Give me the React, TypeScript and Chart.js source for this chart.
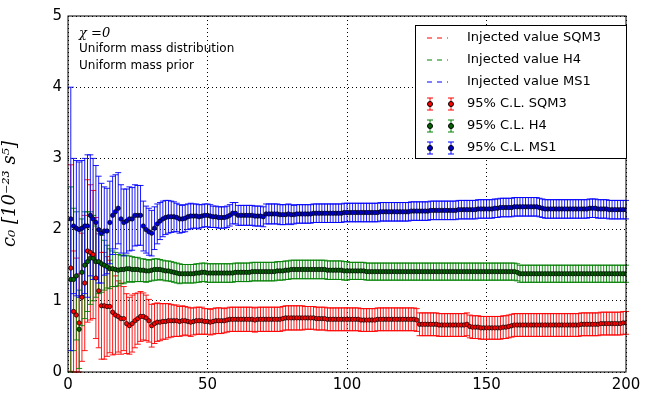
import { useEffect, useRef } from 'react';
import { Chart, registerables } from 'chart.js';

Chart.register(...registerables);

const sqm3Mean = [
  1.46, 0.85, 0.8, 0.69, 1.05, 1.25, 1.7, 1.68, 1.65, 1.32, 1.14, 0.93, 0.93, 0.92, 0.92, 0.84, 0.8, 0.78, 0.75, 0.75,
  0.68, 0.65, 0.68, 0.72, 0.75, 0.78, 0.78, 0.76, 0.72, 0.65, 0.68, 0.7, 0.7, 0.71, 0.71, 0.72, 0.72, 0.72, 0.72, 0.71,
  0.72, 0.72, 0.71, 0.7, 0.71, 0.72, 0.72, 0.72, 0.71, 0.71, 0.7, 0.71, 0.72, 0.72, 0.72, 0.72, 0.73, 0.74, 0.74, 0.74,
  0.74, 0.74, 0.74, 0.74, 0.74, 0.74, 0.73, 0.74, 0.74, 0.74, 0.74, 0.74, 0.74, 0.74, 0.74, 0.74, 0.75, 0.76, 0.76, 0.76,
  0.76, 0.76, 0.76, 0.76, 0.76, 0.76, 0.76, 0.76, 0.75, 0.75, 0.75, 0.75, 0.74, 0.74, 0.74, 0.74, 0.74, 0.74, 0.74, 0.74,
  0.74, 0.74, 0.74, 0.74, 0.73, 0.73, 0.73, 0.73, 0.73, 0.73, 0.74, 0.74, 0.74, 0.74, 0.74, 0.74, 0.74, 0.74, 0.74, 0.74,
  0.74, 0.74, 0.74, 0.74, 0.73, 0.67, 0.67, 0.67, 0.67, 0.67, 0.67, 0.67, 0.66, 0.66, 0.66, 0.66, 0.66, 0.66, 0.66, 0.66,
  0.66, 0.66, 0.67, 0.64, 0.63, 0.63, 0.63, 0.62, 0.62, 0.62, 0.62, 0.62, 0.62, 0.62, 0.62, 0.63, 0.63, 0.64, 0.65, 0.66,
  0.66, 0.66, 0.66, 0.66, 0.66, 0.66, 0.66, 0.66, 0.66, 0.66, 0.66, 0.66, 0.66, 0.66, 0.66, 0.66, 0.66, 0.66, 0.66, 0.66,
  0.66, 0.66, 0.66, 0.67, 0.67, 0.67, 0.67, 0.67, 0.67, 0.67, 0.68, 0.68, 0.68, 0.68, 0.68, 0.68, 0.68, 0.68, 0.69, 0.69,
];
const sqm3Err = [
  1.45, 0.85, 0.8, 0.69, 0.9, 0.95, 1.0, 0.95, 0.9, 0.85, 0.8, 0.75, 0.75, 0.7, 0.65, 0.6, 0.55, 0.5, 0.5, 0.45,
  0.42, 0.4, 0.4, 0.38, 0.36, 0.35, 0.33, 0.32, 0.3, 0.3, 0.28, 0.27, 0.26, 0.25, 0.25, 0.24, 0.23, 0.22, 0.22, 0.21,
  0.21, 0.2, 0.2, 0.2, 0.19, 0.19, 0.19, 0.19, 0.18, 0.18, 0.18, 0.18, 0.18, 0.18, 0.18, 0.17, 0.17, 0.17, 0.17, 0.17,
  0.17, 0.17, 0.17, 0.17, 0.17, 0.17, 0.17, 0.17, 0.17, 0.17, 0.17, 0.17, 0.17, 0.17, 0.17, 0.17, 0.17, 0.17, 0.17, 0.17,
  0.17, 0.17, 0.17, 0.17, 0.16, 0.16, 0.16, 0.16, 0.16, 0.16, 0.16, 0.16, 0.16, 0.16, 0.16, 0.16, 0.16, 0.16, 0.16, 0.16,
  0.16, 0.16, 0.16, 0.16, 0.16, 0.16, 0.16, 0.16, 0.16, 0.16, 0.16, 0.16, 0.16, 0.16, 0.16, 0.16, 0.16, 0.16, 0.16, 0.16,
  0.16, 0.16, 0.16, 0.16, 0.16, 0.16, 0.16, 0.16, 0.16, 0.16, 0.16, 0.16, 0.16, 0.16, 0.16, 0.16, 0.16, 0.16, 0.16, 0.16,
  0.16, 0.16, 0.16, 0.16, 0.16, 0.16, 0.16, 0.16, 0.16, 0.16, 0.16, 0.16, 0.16, 0.16, 0.16, 0.16, 0.16, 0.16, 0.16, 0.16,
  0.16, 0.16, 0.16, 0.16, 0.16, 0.16, 0.16, 0.16, 0.16, 0.16, 0.16, 0.16, 0.16, 0.16, 0.16, 0.16, 0.16, 0.16, 0.16, 0.16,
  0.16, 0.16, 0.16, 0.16, 0.16, 0.16, 0.16, 0.16, 0.16, 0.16, 0.16, 0.16, 0.16, 0.16, 0.16, 0.16, 0.16, 0.16, 0.16, 0.16,
];
const h4Mean = [
  1.3, 1.3, 1.35, 0.6, 1.4, 1.5, 1.55, 1.6, 1.6, 1.55, 1.55, 1.52, 1.5, 1.48, 1.45, 1.45, 1.44, 1.43, 1.44, 1.44,
  1.45, 1.45, 1.44, 1.44, 1.44, 1.43, 1.43, 1.42, 1.42, 1.43, 1.44, 1.44, 1.44, 1.43, 1.42, 1.42, 1.41, 1.4, 1.39, 1.38,
  1.38, 1.38, 1.38, 1.38, 1.38, 1.39, 1.39, 1.4, 1.4, 1.39, 1.39, 1.39, 1.39, 1.39, 1.39, 1.39, 1.39, 1.39, 1.39, 1.4,
  1.4, 1.4, 1.4, 1.4, 1.4, 1.41, 1.41, 1.41, 1.41, 1.41, 1.41, 1.41, 1.41, 1.41, 1.42, 1.42, 1.42, 1.43, 1.43, 1.44,
  1.44, 1.44, 1.44, 1.44, 1.44, 1.44, 1.44, 1.44, 1.44, 1.44, 1.44, 1.44, 1.43, 1.43, 1.43, 1.43, 1.43, 1.43, 1.42, 1.42,
  1.42, 1.42, 1.42, 1.42, 1.42, 1.42, 1.41, 1.41, 1.41, 1.41, 1.41, 1.41, 1.41, 1.41, 1.41, 1.41, 1.41, 1.41, 1.41, 1.41,
  1.41, 1.41, 1.41, 1.41, 1.41, 1.41, 1.41, 1.41, 1.41, 1.41, 1.41, 1.41, 1.41, 1.41, 1.41, 1.41, 1.41, 1.41, 1.41, 1.41,
  1.41, 1.41, 1.41, 1.41, 1.41, 1.41, 1.41, 1.41, 1.41, 1.41, 1.41, 1.41, 1.41, 1.41, 1.41, 1.41, 1.41, 1.41, 1.41, 1.41,
  1.4, 1.38, 1.38, 1.38, 1.38, 1.38, 1.38, 1.38, 1.38, 1.38, 1.38, 1.38, 1.38, 1.38, 1.38, 1.38, 1.38, 1.38, 1.38, 1.38,
  1.38, 1.38, 1.38, 1.38, 1.38, 1.38, 1.38, 1.38, 1.38, 1.38, 1.38, 1.38, 1.38, 1.38, 1.38, 1.38, 1.38, 1.38, 1.38, 1.38,
];
const h4Err = [
  1.3, 1.0, 0.9, 0.55, 0.75, 0.75, 0.7, 0.65, 0.6, 0.5, 0.45, 0.4, 0.35, 0.3, 0.28, 0.25, 0.24, 0.22, 0.2, 0.2,
  0.19, 0.18, 0.18, 0.17, 0.17, 0.16, 0.16, 0.16, 0.15, 0.15, 0.15, 0.15, 0.14, 0.14, 0.14, 0.14, 0.14, 0.14, 0.14, 0.14,
  0.13, 0.13, 0.13, 0.13, 0.13, 0.13, 0.13, 0.13, 0.13, 0.13, 0.13, 0.13, 0.13, 0.13, 0.13, 0.13, 0.13, 0.13, 0.13, 0.13,
  0.13, 0.13, 0.13, 0.13, 0.13, 0.13, 0.13, 0.13, 0.13, 0.13, 0.13, 0.13, 0.13, 0.13, 0.13, 0.13, 0.13, 0.13, 0.13, 0.13,
  0.13, 0.13, 0.13, 0.13, 0.13, 0.13, 0.13, 0.13, 0.13, 0.13, 0.13, 0.13, 0.13, 0.13, 0.13, 0.13, 0.13, 0.13, 0.13, 0.13,
  0.12, 0.12, 0.12, 0.12, 0.12, 0.12, 0.12, 0.12, 0.12, 0.12, 0.12, 0.12, 0.12, 0.12, 0.12, 0.12, 0.12, 0.12, 0.12, 0.12,
  0.12, 0.12, 0.12, 0.12, 0.12, 0.12, 0.12, 0.12, 0.12, 0.12, 0.12, 0.12, 0.12, 0.12, 0.12, 0.12, 0.12, 0.12, 0.12, 0.12,
  0.12, 0.12, 0.12, 0.12, 0.12, 0.12, 0.12, 0.12, 0.12, 0.12, 0.12, 0.12, 0.12, 0.12, 0.12, 0.12, 0.12, 0.12, 0.12, 0.12,
  0.12, 0.12, 0.12, 0.12, 0.12, 0.12, 0.12, 0.12, 0.12, 0.12, 0.12, 0.12, 0.12, 0.12, 0.12, 0.12, 0.12, 0.12, 0.12, 0.12,
  0.12, 0.12, 0.12, 0.12, 0.12, 0.12, 0.12, 0.12, 0.12, 0.12, 0.12, 0.12, 0.12, 0.12, 0.12, 0.12, 0.12, 0.12, 0.12, 0.12,
];
const ms1Mean = [
  2.15, 2.05, 2.02, 2.0, 2.02, 2.05, 2.05, 2.2, 2.15, 2.1, 2.0, 1.95, 1.98, 1.98, 2.1, 2.2, 2.25, 2.3, 2.15, 2.1,
  2.12, 2.15, 2.15, 2.2, 2.2, 2.2, 2.05, 2.0, 1.97, 1.95, 2.02, 2.08, 2.12, 2.15, 2.17, 2.18, 2.18, 2.18, 2.17, 2.15,
  2.15, 2.16, 2.18, 2.19, 2.19, 2.19, 2.18, 2.19, 2.2, 2.2, 2.19, 2.18, 2.18, 2.17, 2.17, 2.17, 2.18, 2.2, 2.23, 2.23,
  2.2, 2.2, 2.2, 2.2, 2.2, 2.2, 2.19, 2.19, 2.19, 2.18, 2.22, 2.22, 2.22, 2.22, 2.22, 2.21, 2.21, 2.21, 2.22, 2.21,
  2.21, 2.22, 2.22, 2.22, 2.22, 2.22, 2.22, 2.23, 2.23, 2.23, 2.23, 2.23, 2.23, 2.23, 2.23, 2.23, 2.23, 2.23, 2.24, 2.24,
  2.24, 2.24, 2.24, 2.24, 2.24, 2.24, 2.24, 2.24, 2.24, 2.24, 2.24, 2.25, 2.25, 2.25, 2.25, 2.25, 2.25, 2.25, 2.25, 2.25,
  2.25, 2.25, 2.26, 2.26, 2.26, 2.26, 2.26, 2.26, 2.26, 2.27, 2.27, 2.27, 2.27, 2.27, 2.27, 2.27, 2.27, 2.27, 2.27, 2.28,
  2.28, 2.28, 2.28, 2.28, 2.28, 2.28, 2.29, 2.29, 2.29, 2.29, 2.29, 2.29, 2.3, 2.3, 2.31, 2.31, 2.31, 2.31, 2.31, 2.32,
  2.32, 2.32, 2.32, 2.32, 2.32, 2.32, 2.32, 2.32, 2.31, 2.3, 2.29, 2.29, 2.29, 2.29, 2.29, 2.29, 2.29, 2.29, 2.29, 2.29,
  2.29, 2.29, 2.29, 2.29, 2.29, 2.29, 2.3, 2.3, 2.3, 2.29, 2.29, 2.29, 2.29, 2.28, 2.28, 2.28, 2.28, 2.28, 2.28, 2.28,
];
const ms1Err = [
  1.85, 0.95, 0.95, 0.95, 0.95, 0.95, 1.0, 0.85, 0.85, 0.8, 0.75, 0.7, 0.62, 0.6, 0.58, 0.55, 0.52, 0.5, 0.48, 0.47,
  0.45, 0.45, 0.44, 0.43, 0.42, 0.42, 0.35, 0.33, 0.33, 0.32, 0.3, 0.28, 0.26, 0.25, 0.24, 0.23, 0.22, 0.21, 0.2, 0.2,
  0.19, 0.19, 0.18, 0.18, 0.17, 0.17, 0.17, 0.16, 0.16, 0.16, 0.16, 0.15, 0.15, 0.15, 0.15, 0.15, 0.15, 0.15, 0.15, 0.15,
  0.14, 0.14, 0.14, 0.14, 0.14, 0.14, 0.14, 0.14, 0.14, 0.14, 0.14, 0.14, 0.14, 0.14, 0.14, 0.14, 0.14, 0.14, 0.14, 0.14,
  0.13, 0.13, 0.13, 0.13, 0.13, 0.13, 0.13, 0.13, 0.13, 0.13, 0.13, 0.13, 0.13, 0.13, 0.13, 0.13, 0.13, 0.13, 0.13, 0.13,
  0.13, 0.13, 0.13, 0.13, 0.13, 0.13, 0.13, 0.13, 0.13, 0.13, 0.13, 0.13, 0.13, 0.13, 0.13, 0.13, 0.13, 0.13, 0.13, 0.13,
  0.13, 0.13, 0.13, 0.13, 0.13, 0.13, 0.13, 0.13, 0.13, 0.13, 0.13, 0.13, 0.13, 0.13, 0.13, 0.13, 0.13, 0.13, 0.13, 0.13,
  0.13, 0.13, 0.13, 0.13, 0.13, 0.13, 0.13, 0.13, 0.13, 0.13, 0.13, 0.13, 0.13, 0.13, 0.13, 0.13, 0.13, 0.13, 0.13, 0.13,
  0.13, 0.13, 0.13, 0.13, 0.13, 0.13, 0.13, 0.13, 0.13, 0.13, 0.13, 0.13, 0.13, 0.13, 0.13, 0.13, 0.13, 0.13, 0.13, 0.13,
  0.13, 0.13, 0.13, 0.13, 0.13, 0.13, 0.13, 0.13, 0.13, 0.13, 0.13, 0.13, 0.13, 0.13, 0.13, 0.13, 0.13, 0.13, 0.13, 0.13,
];

const seriesNames = ['SQM3', 'H4', 'MS1'];
const lineColors = ['#ff0000', '#008000', '#0000ff'];
const dotColors = ['#ff0000', '#006400', '#0000cc'];
const annotations = ['Uniform mass distribution', 'Uniform mass prior'];

const FONT = '"DejaVu Sans", sans-serif';

// error bars + caps, drawn before the dots
const errorBars = {
  id: 'errorBars',
  beforeDatasetsDraw(chart: any) {
    const { ctx, scales } = chart;
    ctx.save();
    chart.data.datasets.forEach((ds: any, i: number) => {
      ctx.strokeStyle = lineColors[i];
      ctx.globalAlpha = 0.9;
      ctx.lineWidth = 1;
      ds.data.forEach((p: any) => {
        const x = scales.x.getPixelForValue(p.x);
        const y1 = scales.y.getPixelForValue(Math.max(0, p.y - p.e));
        const y2 = scales.y.getPixelForValue(p.y + p.e);
        ctx.beginPath();
        ctx.moveTo(x, y1);
        ctx.lineTo(x, y2);
        ctx.moveTo(x - 3, y1);
        ctx.lineTo(x + 3, y1);
        ctx.moveTo(x - 3, y2);
        ctx.lineTo(x + 3, y2);
        ctx.stroke();
      });
    });
    ctx.restore();
  },
  afterDraw(chart: any) {
    const { ctx, chartArea: a } = chart;
    ctx.save();
    ctx.strokeStyle = '#000';
    ctx.lineWidth = 1;
    ctx.strokeRect(a.left, a.top, a.right - a.left, a.bottom - a.top);
    // annotation text
    ctx.fillStyle = '#000';
    ctx.textBaseline = 'middle';
    ctx.font = 'italic 13px "DejaVu Serif", serif';
    ctx.fillText('\u03c7 =0', a.left + 11, a.top + 18);
    ctx.font = '12px ' + FONT;
    annotations.forEach((t, i) => ctx.fillText(t, a.left + 11, a.top + 33 + i * 17));
    // legend
    const lx = 415, ly = 25, lw = 211, lh = 133;
    ctx.fillStyle = '#fff';
    ctx.fillRect(lx, ly, lw, lh);
    ctx.strokeRect(lx + 0.5, ly + 0.5, lw, lh);
    ctx.font = '13px ' + FONT;
    seriesNames.forEach((n, i) => {
      const y = ly + 13 + i * 22;
      ctx.strokeStyle = lineColors[i];
      ctx.setLineDash([5, 5]);
      ctx.beginPath();
      ctx.moveTo(lx + 12, y);
      ctx.lineTo(lx + 33, y);
      ctx.stroke();
      ctx.setLineDash([]);
      ctx.fillStyle = '#000';
      ctx.fillText('Injected value ' + n, lx + 52, y);
    });
    seriesNames.forEach((n, i) => {
      const y = ly + 79 + i * 22;
      [lx + 15, lx + 36].forEach((x) => {
        ctx.strokeStyle = lineColors[i];
        ctx.beginPath();
        ctx.moveTo(x, y - 6);
        ctx.lineTo(x, y + 6);
        ctx.moveTo(x - 3, y - 6);
        ctx.lineTo(x + 3, y - 6);
        ctx.moveTo(x - 3, y + 6);
        ctx.lineTo(x + 3, y + 6);
        ctx.stroke();
        ctx.fillStyle = dotColors[i];
        ctx.strokeStyle = '#000';
        ctx.beginPath();
        ctx.arc(x, y, 2.5, 0, Math.PI * 2);
        ctx.fill();
        ctx.stroke();
      });
      ctx.fillStyle = '#000';
      ctx.fillText('95% C.L. ' + n, lx + 52, y);
    });
    ctx.restore();
  },
};

export default function App() {
  const canvasRef = useRef<HTMLCanvasElement>(null);

  useEffect(() => {
    document.body.style.margin = '0';
    if (!canvasRef.current) return;
    const means = [sqm3Mean, h4Mean, ms1Mean];
    const errs = [sqm3Err, h4Err, ms1Err];
    const chart = new Chart(canvasRef.current, {
      type: 'scatter',
      data: {
        datasets: means.map((m, i) => ({
          label: '95% C.L. ' + seriesNames[i],
          data: m.map((v, j) => ({ x: j + 1, y: v, e: errs[i][j] })),
          pointRadius: 2.2,
          pointBackgroundColor: dotColors[i],
          pointBorderColor: '#000',
          pointBorderWidth: 0.7,
        })),
      },
      options: {
        animation: false,
        responsive: false,
        layout: { padding: { top: 16, right: 19 } },
        plugins: { legend: { display: false }, tooltip: { enabled: false } },
        scales: {
          x: {
            min: 0,
            max: 200,
            ticks: { stepSize: 50, color: '#000', font: { family: FONT, size: 15 }, padding: 4 },
            grid: { color: '#000', drawTicks: false } as any,
            border: { dash: [1, 3], display: false } as any,
            afterFit: (s: any) => { s.height = 28; },
          },
          y: {
            min: 0,
            max: 5,
            ticks: { stepSize: 1, color: '#000', font: { family: FONT, size: 15 }, padding: 6 },
            grid: { color: '#000', drawTicks: false },
            border: { dash: [1, 3], display: false } as any,
            title: {
              display: true,
              text: 'c\u2080 [10\u207b\u00b2\u00b3 s\u2075]',
              color: '#000',
              font: { family: '"DejaVu Serif", serif', size: 18, style: 'italic' },
              padding: 0,
            },
            afterFit: (s: any) => { s.width = 68; },
          },
        },
      },
      plugins: [errorBars],
    });
    return () => chart.destroy();
  }, []);

  return <canvas ref={canvasRef} width={645} height={400} />;
}
